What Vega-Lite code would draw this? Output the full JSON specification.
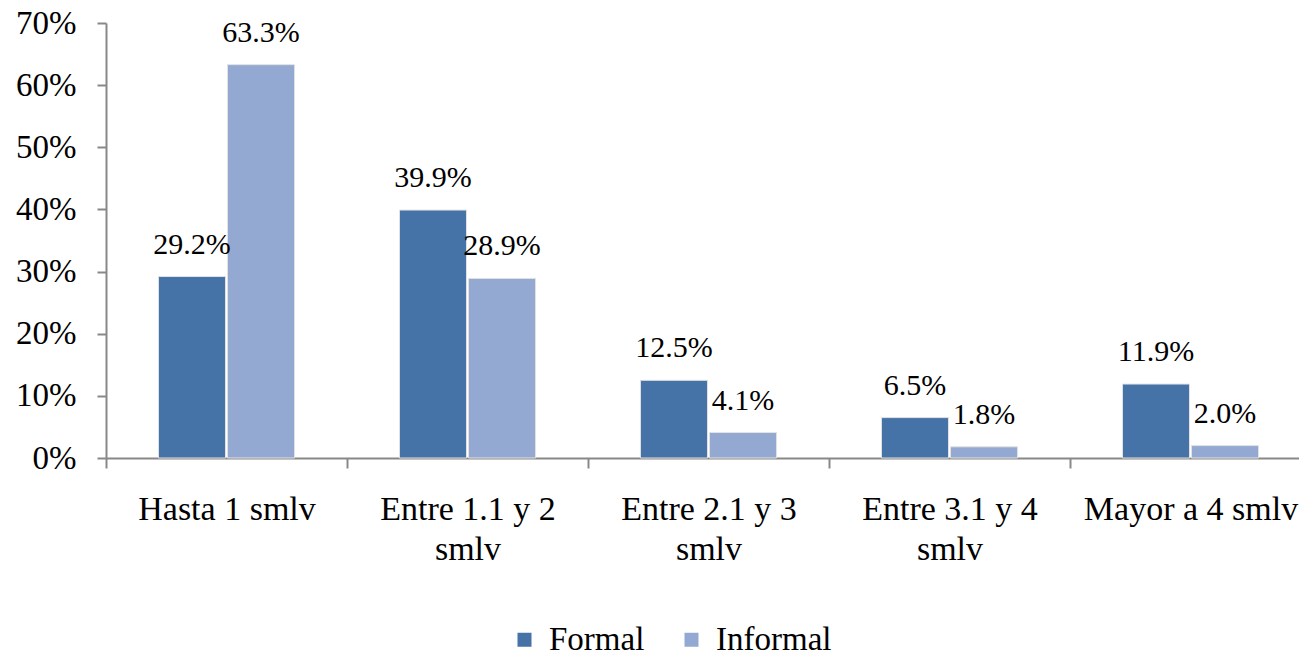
{
  "$schema": "https://vega.github.io/schema/vega-lite/v6.json",
  "width": 1193,
  "height": 435,
  "autosize": {"type": "none"},
  "padding": {"left": 106, "top": 23, "right": 0, "bottom": 201},
  "background": "white",
  "config": {
    "view": {"stroke": null},
    "font": "Liberation Serif",
    "axis": {"labelFont": "Liberation Serif", "labelColor": "black", "domainColor": "#888", "tickColor": "#888", "grid": false, "title": null}
  },
  "data": {
    "values": [
      {"grupo": "Hasta 1 smlv", "tipo": "Formal", "valor": 0.292},
      {"grupo": "Hasta 1 smlv", "tipo": "Informal", "valor": 0.633},
      {"grupo": "Entre 1.1 y 2 smlv", "tipo": "Formal", "valor": 0.399},
      {"grupo": "Entre 1.1 y 2 smlv", "tipo": "Informal", "valor": 0.289},
      {"grupo": "Entre 2.1 y 3 smlv", "tipo": "Formal", "valor": 0.125},
      {"grupo": "Entre 2.1 y 3 smlv", "tipo": "Informal", "valor": 0.041},
      {"grupo": "Entre 3.1 y 4 smlv", "tipo": "Formal", "valor": 0.065},
      {"grupo": "Entre 3.1 y 4 smlv", "tipo": "Informal", "valor": 0.018},
      {"grupo": "Mayor a 4 smlv", "tipo": "Formal", "valor": 0.119},
      {"grupo": "Mayor a 4 smlv", "tipo": "Informal", "valor": 0.02}
    ]
  },
  "encoding": {
    "x": {
      "field": "grupo", "type": "nominal", "sort": null,
      "scale": {"range": [0, 1205], "paddingInner": 0, "paddingOuter": 0},
      "axis": {
        "labelAngle": 0, "labelFontSize": 34, "tickSize": 10, "tickBand": "extent", "labelLimit": 0,
        "labelPadding": 24, "labelLineHeight": 40, "labelBaseline": "top", "domainWidth": 2, "tickWidth": 2,
        "labelExpr": "datum.value == null ? '' : (datum.value == 'Hasta 1 smlv' || datum.value == 'Mayor a 4 smlv' ? datum.value : [replace(datum.value, ' smlv', ''), 'smlv'])"
      }
    },
    "xOffset": {"field": "tipo", "type": "nominal", "scale": {"paddingInner": 0.029, "paddingOuter": 0.76}},
    "y": {
      "field": "valor", "type": "quantitative",
      "scale": {"domain": [0, 0.7]},
      "axis": {"format": ".0%", "values": [0, 0.1, 0.2, 0.3, 0.4, 0.5, 0.6, 0.7], "labelFontSize": 33, "tickSize": 9, "labelPadding": 21, "domainWidth": 2, "tickWidth": 2}
    }
  },
  "layer": [
    {
      "mark": {"type": "bar", "stroke": "#e2e2e2", "strokeWidth": 1},
      "encoding": {
        "color": {
          "field": "tipo", "type": "nominal",
          "scale": {"domain": ["Formal", "Informal"], "range": ["#4572a7", "#94a9d1"]},
          "legend": {
            "orient": "none", "legendX": 402, "legendY": 600, "direction": "horizontal", "title": null,
            "symbolType": "square", "symbolSize": 196, "symbolStrokeWidth": 0,
            "labelFont": "Liberation Serif", "labelFontSize": 33, "labelColor": "black", "labelOffset": 8, "columnPadding": 30
          }
        }
      }
    },
    {
      "mark": {"type": "text", "baseline": "alphabetic", "dy": -23, "fontSize": 30, "font": "Liberation Serif", "color": "black"},
      "encoding": {
        "text": {"field": "valor", "type": "quantitative", "format": ".1%"}
      }
    }
  ]
}
